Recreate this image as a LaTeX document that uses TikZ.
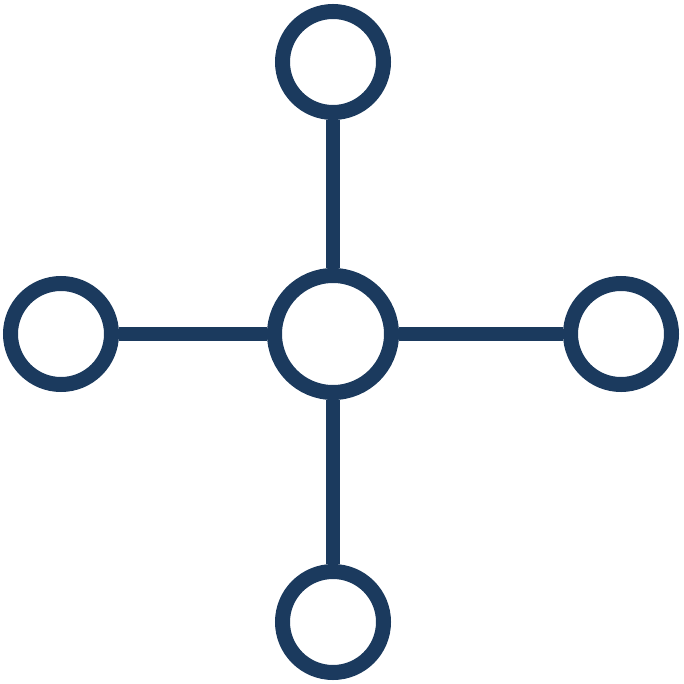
\documentclass[tikz,border=0pt]{standalone}
\definecolor{navy}{RGB}{27,58,94}
\begin{document}
\begin{tikzpicture}[x=1pt,y=-1pt,
  ring/.style={circle,draw=navy,line width=15pt,minimum size=101pt,inner sep=0pt},
  hub/.style={circle,draw=navy,line width=15pt,minimum size=117pt,inner sep=0pt},
  stem/.style={draw=navy,line width=14pt}]
\useasboundingbox (0,0) rectangle (683,684);
\node[hub] (c) at (333,334) {};
\node[ring] (t) at (333,62) {};
\node[ring] (b) at (333,622) {};
\node[ring] (l) at (61,334) {};
\node[ring] (r) at (621,334) {};
\draw[stem] (c) -- (t);
\draw[stem] (c) -- (b);
\draw[stem] (c) -- (l);
\draw[stem] (c) -- (r);
\end{tikzpicture}
\end{document}
